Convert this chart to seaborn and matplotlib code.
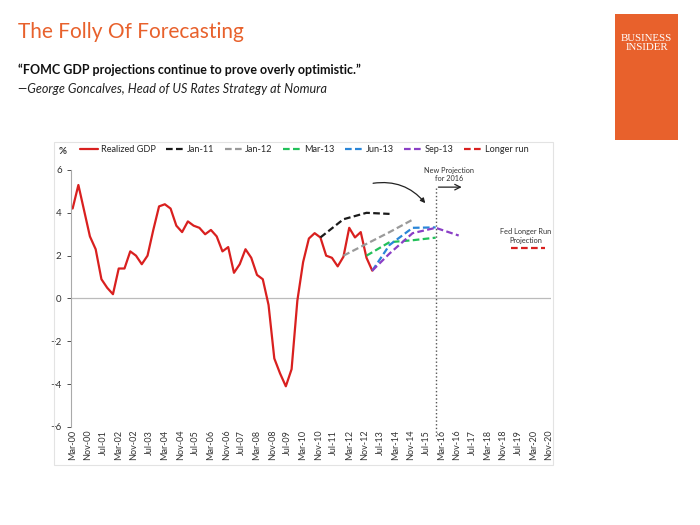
import pandas as pd
import matplotlib
matplotlib.use("Agg")
import matplotlib.pyplot as plt
from matplotlib.patches import Rectangle
from matplotlib.lines import Line2D
import seaborn as sns

# 数据：横轴为自 2000年3月 起的月数
realized_months = list(range(0, 157, 3))
realized_gdp = [4.2, 5.3, 4.1, 2.9, 2.3, 0.9, 0.5, 0.2, 1.4, 1.4,
                2.2, 2.0, 1.6, 2.0, 3.2, 4.3, 4.4, 4.2, 3.4, 3.1,
                3.6, 3.4, 3.3, 3.0, 3.2, 2.9, 2.2, 2.4, 1.2, 1.6,
                2.3, 1.9, 1.1, 0.9, -0.3, -2.8, -3.5, -4.1, -3.3, -0.1,
                1.7, 2.8, 3.05, 2.85, 2.0, 1.9, 1.5, 1.95, 3.3, 2.85,
                3.1, 1.9, 1.3]

jan11_months = [129, 141, 153, 165]
jan11_vals = [2.85, 3.7, 4.0, 3.95]
jan12_months = [141, 153, 165, 177]
jan12_vals = [2.0, 2.55, 3.1, 3.68]
mar13_months = [153, 165, 177, 189]
mar13_vals = [2.0, 2.63, 2.72, 2.84]
jun13_months = [156, 165, 177, 189]
jun13_vals = [1.3, 2.5, 3.3, 3.32]
sep13_months = [156, 165, 177, 189, 201]
sep13_vals = [1.3, 2.1, 3.05, 3.3, 2.94]
longrun_months = [228, 246]
longrun_vals = [2.35, 2.35]

projection_month = 189

tick_months = list(range(0, 249, 8))
tick_labels = ['Mar-00', 'Nov-00', 'Jul-01', 'Mar-02', 'Nov-02', 'Jul-03', 'Mar-04', 'Nov-04',
               'Jul-05', 'Mar-06', 'Nov-06', 'Jul-07', 'Mar-08', 'Nov-08', 'Jul-09', 'Mar-10',
               'Nov-10', 'Jul-11', 'Mar-12', 'Nov-12', 'Jul-13', 'Mar-14', 'Nov-14', 'Jul-15',
               'Mar-16', 'Nov-16', 'Jul-17', 'Mar-18', 'Nov-18', 'Jul-19', 'Mar-20', 'Nov-20']

series = [
    ('Realized GDP', realized_months, realized_gdp, '#d9201f', None),
    ('Jan-11', jan11_months, jan11_vals, '#1a1a1a', (3, 1.5)),
    ('Jan-12', jan12_months, jan12_vals, '#9a9a9a', (3, 1.5)),
    ('Mar-13', mar13_months, mar13_vals, '#22c05a', (3, 1.5)),
    ('Jun-13', jun13_months, jun13_vals, '#2a86d8', (3, 1.5)),
    ('Sep-13', sep13_months, sep13_vals, '#8a3fc6', (3, 1.5)),
    ('Longer run', longrun_months, longrun_vals, '#d9201f', (3, 1.5)),
]

sns.set_style("white")
plt.rcParams['font.family'] = ['Lato', 'DejaVu Sans']

fig = plt.figure(figsize=(7, 5.25), dpi=100)
ax = fig.add_axes([0.101, 0.1867, 0.686, 0.4895])

handles = []
for name, xs, ys, color, dash in series:
    df = pd.DataFrame({'month': xs, 'value': ys})
    sns.lineplot(data=df, x='month', y='value', ax=ax, color=color, linewidth=1.6)
    if dash is not None:
        ax.lines[-1].set_dashes(dash)
        handles.append(Line2D([], [], color=color, linewidth=1.6, dashes=dash, label=name))
    else:
        handles.append(Line2D([], [], color=color, linewidth=1.6, label=name))

ax.set_xlim(-1, 249)
ax.set_ylim(-6, 6)
ax.set_yticks(range(-6, 7, 2))
ax.set_xticks(tick_months)
ax.set_xticklabels(tick_labels, rotation=90, fontsize=6.5, color='#333333')
ax.tick_params(axis='y', labelsize=7, colors='#333333', length=3, left=True, width=0.6)
ax.tick_params(axis='x', length=0, pad=2)
ax.set_xlabel('')
ax.set_ylabel('')
for s in ['top', 'right', 'bottom']:
    ax.spines[s].set_visible(False)
ax.spines['left'].set_color('#aaaaaa')
ax.spines['left'].set_linewidth(0.8)
ax.axhline(0, color='#bbbbbb', linewidth=0.9, zorder=0)

# 2016 新预测竖线与注释
ax.plot([projection_month, projection_month], [-6.4, 5.2], linestyle=':', color='#555555',
        linewidth=1.0, clip_on=False)
ax.annotate('', xy=(204, 5.2), xytext=(projection_month, 5.2),
            arrowprops=dict(arrowstyle='->', color='#222222', lw=0.9))
ax.text(196, 5.45, 'New Projection\nfor 2016', ha='center', va='bottom', fontsize=5.3,
        color='#333333', linespacing=1.2)
ax.annotate('', xy=(184.5, 4.35), xytext=(155, 5.36),
            arrowprops=dict(arrowstyle='-|>', color='#222222', lw=0.9, mutation_scale=7,
                            connectionstyle='arc3,rad=-0.3'))
ax.text(236, 2.55, 'Fed Longer Run\nProjection', ha='center', va='bottom', fontsize=5.3,
        color='#333333', linespacing=1.3)

fig.legend(handles=handles, loc='center left', bbox_to_anchor=(80 / 700, 1 - 150 / 525),
           ncol=7, frameon=False, fontsize=6.6, handlelength=2.0, handletextpad=0.25,
           columnspacing=1.15, borderaxespad=0, borderpad=0)
fig.text(63 / 700, 1 - 152 / 525, '%', fontsize=7, fontweight='bold', color='#333333',
         ha='center', va='center')

# 图框
fig.patches.append(Rectangle((54 / 700, 1 - 465 / 525), 499 / 700, 323 / 525,
                             transform=fig.transFigure, fill=False, edgecolor='#e3e3e3',
                             linewidth=0.8))

# 标题与引语
fig.text(18 / 700, 1 - 32 / 525, 'The Folly Of Forecasting', fontsize=15,
         color='#e8612c', ha='left', va='center')
fig.text(18 / 700, 1 - 70 / 525,
         '\u201cFOMC GDP projections continue to prove overly optimistic.\u201d',
         fontsize=9, fontweight='bold', color='#111111', ha='left', va='center')
fig.text(18 / 700, 1 - 89 / 525,
         '\u2014George Goncalves, Head of US Rates Strategy at Nomura',
         fontsize=9.1, style='italic', color='#222222', ha='left', va='center')

# Business Insider 标志
fig.patches.append(Rectangle((615 / 700, 1 - 140 / 525), 63 / 700, 126 / 525,
                             transform=fig.transFigure, facecolor='#e8612c',
                             edgecolor='none'))
fig.text(646.5 / 700, 1 - 43 / 525, 'BUSINESS\nINSIDER', fontsize=7.8, color='white',
         family='Liberation Serif', ha='center', va='center', linespacing=1.1)

fig.savefig('out.png', dpi=100)
